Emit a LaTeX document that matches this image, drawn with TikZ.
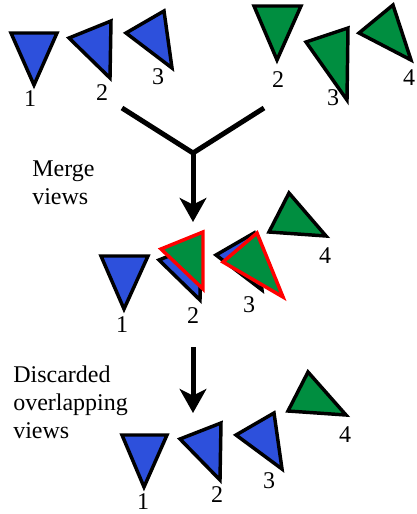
\documentclass[tikz,border=0pt]{standalone}
\usepackage{fontspec}
\setmainfont{Liberation Serif}
\usetikzlibrary{arrows.meta}
\definecolor{viewblue}{RGB}{45,80,220}
\definecolor{viewgreen}{RGB}{0,142,64}
\tikzset{
  view/.style={draw=black,line width=2.6pt,line join=miter},
  blueview/.style={view,fill=viewblue},
  greenview/.style={view,fill=viewgreen},
  keptview/.style={greenview,draw=red},
  lbl/.style={font=\fontsize{18}{21}\selectfont,inner sep=0pt},
  flow/.style={line width=3.75pt,line join=miter},
  flowtip/.style={flow,-{Stealth[length=18pt,width=20pt,inset=5pt]}},
}
\begin{document}
\begin{tikzpicture}[x=0.75pt,y=-0.75pt]
\useasboundingbox (0,0) rectangle (417,514);
% first row: blue views and green views
\draw[blueview] (11,33)--(57,33)--(34,85)--cycle;
\draw[blueview] (69,38)--(111,21)--(110,78)--cycle;
\draw[blueview] (126,33)--(164,11)--(172,68)--cycle;
\foreach \n/\x/\y in {1/30/99,2/102/93,3/158/77}{\node[lbl] (topb\n) at (\x,\y) {\n};}
\draw[greenview] (254,6)--(301,6)--(277,60)--cycle;
\draw[greenview] (306,42)--(348,28)--(347,100)--cycle;
\draw[greenview] (359,33)--(393,5)--(411,60)--cycle;
\foreach \n/\x/\y in {2/278/80,3/333/98,4/409/78}{\node[lbl] (topg\n) at (\x,\y) {\n};}
% merge
\coordinate (mergeL) at (122,108);
\coordinate (mergeR) at (264,108);
\coordinate (join) at (193,153);
\coordinate (mergeEnd) at (193,222);
\draw[flow] (mergeL)--(join)--(mergeR);
\draw[flowtip] (join)--(mergeEnd);
\node[lbl,align=left,anchor=north west] (mergetxt) at (32,161) {Merge\\views};
% second row: merged views
\draw[blueview] (101,256)--(148,256)--(124,309)--cycle;
\draw[blueview] (159,260)--(201,243)--(200,300)--cycle;
\draw[blueview] (216,255)--(254,233)--(262,290)--cycle;
\draw[keptview] (161,249)--(203,232)--(203,289)--cycle;
\draw[keptview] (223,262)--(257,233)--(283,297)--cycle;
\draw[greenview] (289,193)--(326,236)--(269,232)--cycle;
\foreach \n/\x/\y in {1/122/325,2/193/316,3/249/305,4/325/256}{\node[lbl] (mid\n) at (\x,\y) {\n};}
% discard
\coordinate (discStart) at (193,347);
\coordinate (discEnd) at (193,413);
\draw[flowtip] (discStart)--(discEnd);
\node[lbl,align=left,anchor=north west] (disctxt) at (13,366) {Discarded\\overlapping\\views};
% third row: result
\draw[blueview] (122,435)--(167,435)--(144,487)--cycle;
\draw[blueview] (180,439)--(221,423)--(220,480)--cycle;
\draw[blueview] (236,435)--(274,413)--(282,469)--cycle;
\draw[greenview] (308,372)--(346,415)--(288,411)--cycle;
\foreach \n/\x/\y in {1/143/502,2/217/495,3/269/481,4/345/435}{\node[lbl] (bot\n) at (\x,\y) {\n};}
\end{tikzpicture}
\end{document}
